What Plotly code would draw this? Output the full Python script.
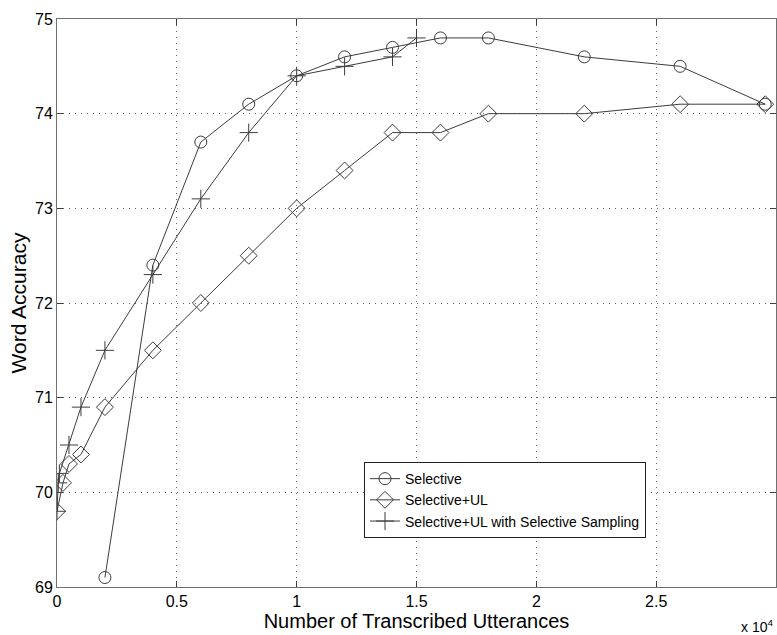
import plotly.graph_objects as go

# Data (x in units of 10^4 transcribed utterances)
sel_x = [0.2, 0.4, 0.6, 0.8, 1.0, 1.2, 1.4, 1.6, 1.8, 2.2, 2.6, 2.955]
sel_y = [69.1, 72.4, 73.7, 74.1, 74.4, 74.6, 74.7, 74.8, 74.8, 74.6, 74.5, 74.1]

ul_x = [0.0, 0.025, 0.05, 0.1, 0.2, 0.4, 0.6, 0.8, 1.0, 1.2, 1.4, 1.6, 1.8, 2.2, 2.6, 2.955]
ul_y = [69.8, 70.1, 70.3, 70.4, 70.9, 71.5, 72.0, 72.5, 73.0, 73.4, 73.8, 73.8, 74.0, 74.0, 74.1, 74.1]

ss_x = [0.0, 0.005, 0.01, 0.05, 0.1, 0.2, 0.4, 0.6, 0.8, 1.0, 1.2, 1.4, 1.5]
ss_y = [69.8, 70.1, 70.2, 70.5, 70.9, 71.5, 72.3, 73.1, 73.8, 74.4, 74.5, 74.6, 74.8]

x_ticks = [0, 0.5, 1, 1.5, 2, 2.5, 3]
x_ticklabels = ["0", "0.5", "1", "1.5", "2", "2.5", "3"]
y_ticks = [69, 70, 71, 72, 73, 74, 75]

names = ["Selective", "Selective+UL", "Selective+UL with Selective Sampling"]

LINE = "#3c3c3c"
FONT = "Liberation Sans, Arial, sans-serif"

fig = go.Figure()
fig.add_trace(go.Scatter(x=sel_x, y=sel_y, name=names[0], mode="lines+markers",
                         line=dict(color=LINE, width=1),
                         marker=dict(symbol="circle-open", size=12, color=LINE, line=dict(width=1))))
fig.add_trace(go.Scatter(x=ul_x, y=ul_y, name=names[1], mode="lines+markers",
                         line=dict(color=LINE, width=1),
                         marker=dict(symbol="diamond-open", size=13, color=LINE, line=dict(width=1))))
fig.add_trace(go.Scatter(x=ss_x, y=ss_y, name=names[2], mode="lines+markers",
                         line=dict(color=LINE, width=1),
                         marker=dict(symbol="cross-thin-open", size=13, color=LINE, line=dict(width=1, color=LINE))))

axis_common = dict(
    showline=True, linecolor="#707070", linewidth=1, mirror="allticks",
    ticks="inside", ticklen=6, tickcolor="#404040",
    showgrid=True, gridcolor="#606060", griddash="1px,5px", gridwidth=1,
    zeroline=False, automargin=False,
    tickfont=dict(family=FONT, size=16, color="black"),
)

fig.update_xaxes(range=[0, 3], tickvals=x_ticks, ticktext=x_ticklabels,
                 title=dict(text="Number of Transcribed Utterances",
                            font=dict(family=FONT, size=20, color="black"), standoff=2),
                 **axis_common)
fig.update_yaxes(range=[69, 75], tickvals=y_ticks,
                 title=dict(text="Word Accuracy",
                            font=dict(family=FONT, size=21, color="black"), standoff=2),
                 **axis_common)

fig.add_annotation(text="x 10<sup>4</sup>", xref="paper", yref="paper",
                   x=0.948, y=-0.068, xanchor="left", yanchor="middle", showarrow=False,
                   font=dict(family=FONT, size=14, color="black"))

fig.update_layout(
    width=777, height=635,
    margin=dict(l=57, r=1, t=19, b=48),
    plot_bgcolor="white", paper_bgcolor="white",
    font=dict(family=FONT, color="black"),
    legend=dict(x=0.427, y=0.22, xanchor="left", yanchor="top",
                bgcolor="white", bordercolor="#202020", borderwidth=1,
                font=dict(family=FONT, size=14, color="black"),
                tracegroupgap=0, itemwidth=30),
)

fig.write_html("out.html", config={"displayModeBar": False},
               post_script="document.body.style.margin='0px';document.body.style.overflow='hidden';")
